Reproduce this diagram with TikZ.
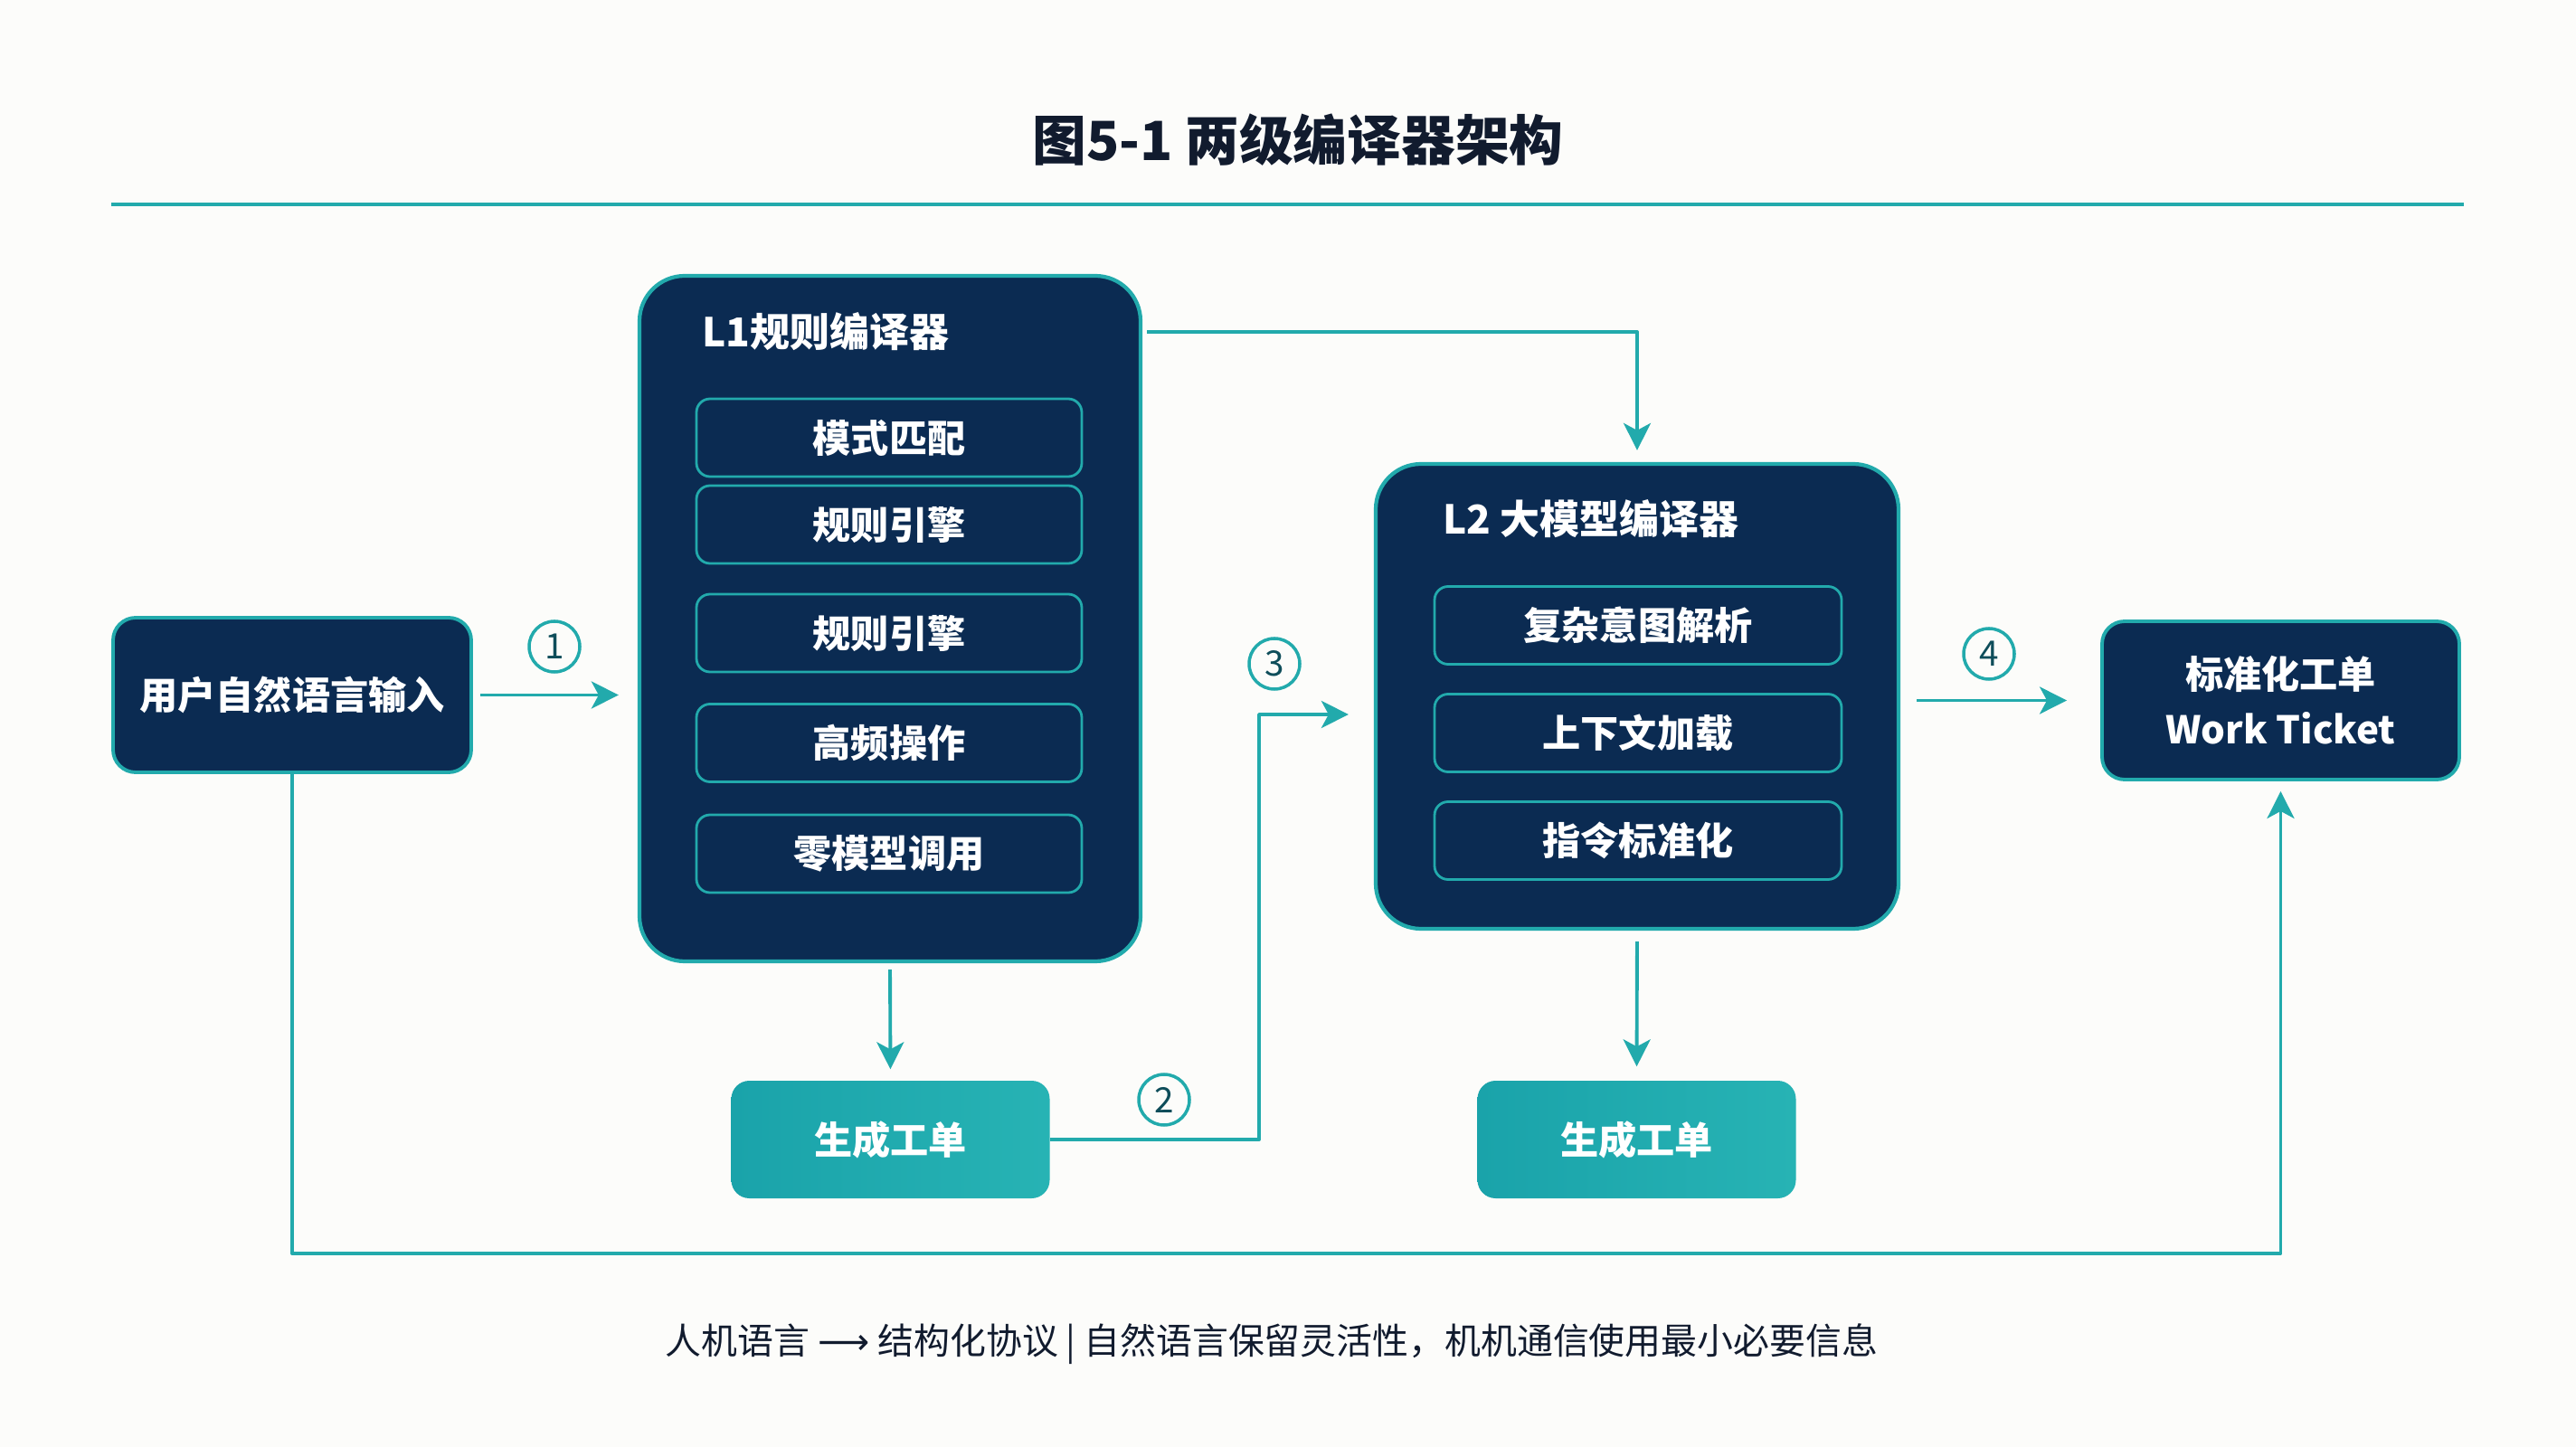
\documentclass[tikz,border=0pt]{standalone}
\usepackage{fontspec}
\setmainfont{Noto Sans CJK SC}
\newfontfamily\arrowfont{DejaVu Sans}
\usetikzlibrary{arrows.meta}

\definecolor{paper}{HTML}{FCFCFA}
\definecolor{navy}{HTML}{0B2B52}
\definecolor{edge}{HTML}{22AAAC}
\definecolor{tkA}{HTML}{1AA3AA}
\definecolor{tkB}{HTML}{27B3B4}
\definecolor{ink}{HTML}{111B2E}
\definecolor{badgeink}{HTML}{0E4D5A}

\begin{document}
\begin{tikzpicture}[
  line join=round,
  block/.style={draw=edge, line width=1.1pt, fill=navy, rounded corners=0.25cm,
    inner sep=0pt, align=center, text=white, font=\bfseries\fontsize{12}{17.3}\selectfont},
  stage/.style={draw=edge, line width=1.2pt, fill=navy, rounded corners=0.5cm, inner sep=0pt},
  head/.style={anchor=west, inner sep=0pt, text=white, font=\bfseries\fontsize{12.5}{15}\selectfont},
  item/.style={draw=edge, line width=0.8pt, rounded corners=0.15cm, minimum height=0.86cm,
    inner sep=0pt, text=white, font=\bfseries\fontsize{12}{14}\selectfont},
  ticket/.style={left color=tkA, right color=tkB, rounded corners=0.2cm, minimum width=3.52cm,
    minimum height=1.3cm, text=white, font=\bfseries\fontsize{12}{14}\selectfont},
  conn/.style={draw=edge, line width=1.1pt, -{Stealth[length=3mm, width=3mm, inset=0.8mm]}},
  badge/.style={circle, draw=edge, line width=1pt, minimum size=0.56cm, inner sep=0pt,
    fill=paper, text=badgeink, font=\fontsize{11}{12}\selectfont},
]
\fill[paper] (0,0) rectangle (28.48,-16);
\useasboundingbox (0,0) rectangle (28.48,-16);

% ── heading ───────────────────────────────────────────────────────────────
\node[text=ink, font=\bfseries\fontsize{17}{20}\selectfont] (title) at (14.35,-1.55) {图5-1 两级编译器架构};
\draw[edge, line width=1.2pt] (1.23,-2.26) -- (27.24,-2.26);

% ── input and output ──────────────────────────────────────────────────────
\node[block, minimum width=3.96cm, minimum height=1.71cm] (user) at (3.23,-7.685) {用户自然语言输入};
\node[block, minimum width=3.95cm, minimum height=1.75cm] (ticket) at (25.215,-7.745) {标准化工单\\Work Ticket};

% ── L1 ────────────────────────────────────────────────────────────────────
\node[stage, minimum width=5.54cm, minimum height=7.58cm] (L1) at (9.84,-6.84) {};
\node[head] (L1head) at (7.76,-3.67) {L1规则编译器};
\foreach \n/\y/\t in {a/-4.84/模式匹配, b/-5.80/规则引擎, c/-7.00/规则引擎,
                      d/-8.215/高频操作, e/-9.44/零模型调用}
  { \node[item, minimum width=4.26cm] (l1\n) at (9.83,\y) {\t}; }

% ── L2 ────────────────────────────────────────────────────────────────────
\node[stage, minimum width=5.78cm, minimum height=5.14cm] (L2) at (18.10,-7.70) {};
\node[head] (L2head) at (15.95,-5.74) {L2 大模型编译器};
\foreach \n/\y/\t in {a/-6.915/复杂意图解析, b/-8.105/上下文加载, c/-9.295/指令标准化}
  { \node[item, minimum width=4.50cm] (l2\n) at (18.11,\y) {\t}; }

% ── generated tickets ─────────────────────────────────────────────────────
\node[ticket] (gen1) at (9.845,-12.60) {生成工单};
\node[ticket] (gen2) at (18.095,-12.60) {生成工单};

% ── connectors ────────────────────────────────────────────────────────────
\coordinate (bend) at (13.92,-7.90);
\coordinate (loop) at (0,-13.86);

\draw[conn, shorten <=0.08cm, shorten >=0.21cm] (user.east) -- (user.east -| L1.west);
\draw[conn, shorten <=0.05cm, shorten >=0.13cm] (L1head -| L1.east) -| (L2.north);
\draw[conn, shorten <=0.07cm, shorten >=0.12cm] (L1.south) -- (gen1.north);
\draw[conn, shorten >=0.28cm] (gen1.east) -| (bend) -- (bend -| L2.west);
\draw[conn, shorten <=0.12cm, shorten >=0.15cm] (L2.south) -- (gen2.north);
\draw[conn, shorten <=0.18cm, shorten >=0.37cm] (ticket.west -| L2.east) -- (ticket.west);
\draw[conn, shorten >=0.11cm] (user.south) -- (user.south |- loop) -| (ticket.south);

\node[badge] (b1) at (6.13,-7.15) {1};
\node[badge] (b2) at (12.87,-12.16) {2};
\node[badge] (b3) at (14.09,-7.34) {3};
\node[badge] (b4) at (21.99,-7.23) {4};

% ── note ──────────────────────────────────────────────────────────────────
\node[text=ink, font=\fontsize{11.35}{14}\selectfont] (note) at (14.06,-14.86)
  {人机语言 {\arrowfont ⟶} 结构化协议 | 自然语言保留灵活性，机机通信使用最小必要信息};
\end{tikzpicture}
\end{document}
